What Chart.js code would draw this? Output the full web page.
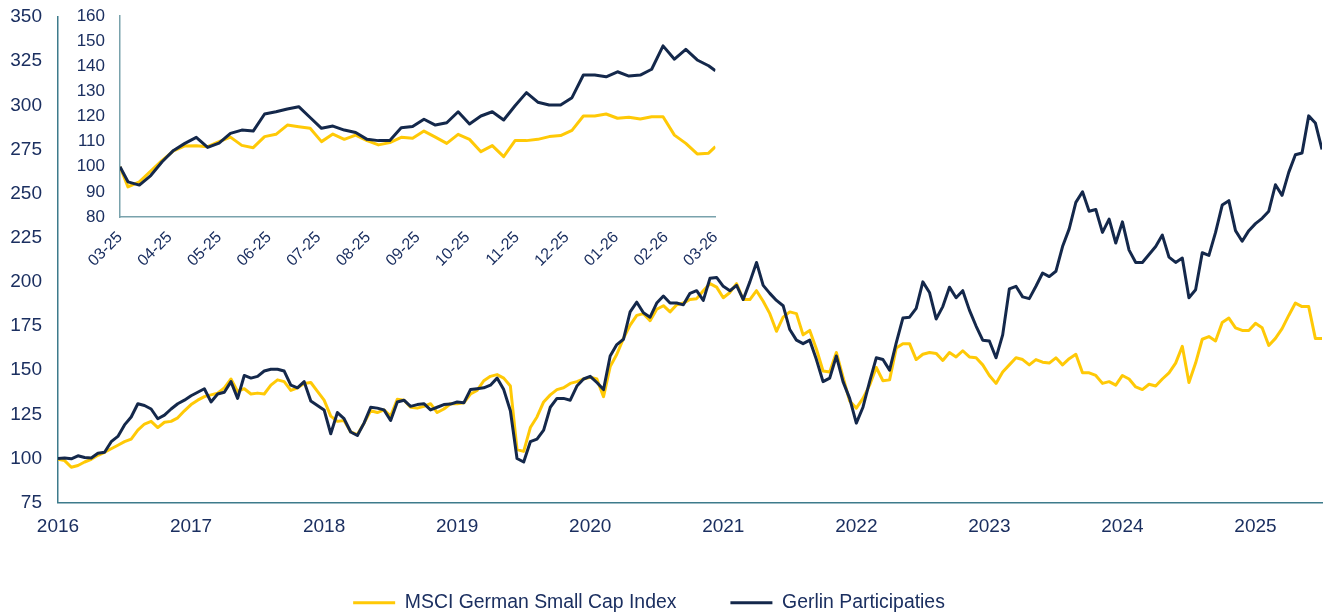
<!DOCTYPE html>
<html>
<head>
<meta charset="utf-8">
<title>Gerlin Participaties vs MSCI German Small Cap</title>
<script src="https://cdn.jsdelivr.net/npm/chart.js@4.4.1/dist/chart.umd.min.js"></script>
<style>
  html, body { margin: 0; padding: 0; background: #ffffff; }
  #wrap { position: relative; width: 1329px; height: 614px; }
  #mainChart, #insetChart { position: absolute; left: 0; top: 0; }
</style>
</head>
<body>
<div id="wrap">
  <canvas id="mainChart" width="1329" height="614"></canvas>
  <canvas id="insetChart" width="740" height="280"></canvas>
</div>
<script>
// ===== data =====

// main chart: one point every 1/20 year from Jan 2016
const mainStart = 2016;
const mainStep = 0.05;
const mainYears = [2016, 2017, 2018, 2019, 2020, 2021, 2022, 2023, 2024, 2025];

const msciMain = [
  99.5, 98.8, 95, 96, 98, 99.5, 101.8, 103.5, 105.5, 107.5,
  109.5, 111, 116, 119.5, 121, 117.5, 120.5, 121, 123, 127,
  130.5, 133, 135, 136, 137, 140, 145, 138, 139.5, 136.5,
  137, 136.5, 141.5, 144.5, 143.5, 138.5, 140, 142.5, 143, 138,
  133, 124, 121, 121.5, 115, 113.5, 120, 127, 126, 127.5,
  124, 133.5, 133, 129, 128.5, 129.5, 131, 126, 128, 131,
  131, 131.5, 136.5, 138.5, 144, 146.5, 147.5, 145.5, 141, 105,
  104, 117.5, 123.5, 132, 136, 139, 140, 142.5, 143.5, 145,
  146, 145, 135, 152, 159, 168, 175.5, 181, 182, 178,
  184.5, 186.5, 183, 187, 188, 190, 190.5, 195, 199, 197,
  191, 194, 199, 190, 190, 195, 189, 182, 172, 180,
  183, 182, 170, 172.5, 162, 149.5, 149, 160, 146, 132.5,
  128.5, 134, 141.5, 151.5, 144, 144.5, 162.5, 165, 165, 156,
  159, 160, 159.5, 155.5, 160, 157.5, 161, 157.5, 157, 153,
  147, 142.5, 149, 153, 157, 156, 153, 156, 154.5, 154,
  157, 153, 156.5, 159, 148.5, 148.5, 147, 142.5, 143.5, 141.5,
  147, 145, 140.5, 139, 142, 141, 145, 148.5, 154, 163.5,
  143, 154, 167.5, 169, 166.5, 177, 179.5, 174, 172.5, 172.5,
  176.5, 174, 164, 168, 173.5, 181, 188, 186, 186, 168,
  168
];

const gerlinMain = [
  100, 100.2, 99.8, 101.5, 100.5, 100.3, 103, 103.5, 109.5, 112.5,
  119, 123.5, 131, 130, 128, 122.5, 124.5, 128, 131, 133,
  135.5, 137.5, 139.5, 132, 136.5, 137.5, 143.5, 134, 147, 145.5,
  146.5, 149.5, 150.5, 150.5, 149.5, 141.5, 140, 143.5, 132.5, 130,
  127.5, 114, 126, 122.5, 115, 113, 120, 129, 128.5, 127.5,
  121.5, 132, 133, 129.5, 130.5, 131, 127.5, 129, 130.5, 130.8,
  132, 131.5, 139, 139.5, 140, 141.5, 145.5, 139, 127, 100,
  98, 109.5, 111, 116, 129, 134, 134, 133, 141, 145,
  146.5, 143, 139, 158, 164.5, 167.5, 183, 188.5, 182.5, 180,
  188, 192, 188, 188, 187, 193.5, 195, 189.5, 202, 202.5,
  197.5, 195, 198, 190, 200, 211, 198, 193.5, 189.5, 186.5,
  173, 167, 165, 167, 156, 143.5, 145.5, 158, 143.5, 134,
  120, 129, 143.5, 157, 156, 150, 165.5, 179.5, 180, 185,
  200, 194, 179, 186, 197, 191, 195, 184, 175, 167,
  166.5, 157, 170, 196, 197.5, 191.5, 190.5, 197.5, 205, 203,
  206, 220, 230, 245, 251, 240, 241, 228, 235.5, 222,
  234, 218, 211, 211, 215.5, 220, 226.5, 214, 211, 213.5,
  191, 195.5, 216.5, 215, 228, 243.5, 246, 229, 223, 229,
  233, 236, 240, 255, 249, 262, 272, 273, 294, 290,
  275
];

// inset: last twelve months, weekly closes (first point is the start date)
const insetMonths = ['03-25', '04-25', '05-25', '06-25', '07-25', '08-25', '09-25',
                     '10-25', '11-25', '12-25', '01-26', '02-26', '03-26'];
const insetSpanWeeks = 52.3;
const insetWeeks = [0].concat(Array.from({ length: 52 }, (_, k) => k + 0.7), [insetSpanWeeks]);

const msciInset = [
  100, 92, 94, 98.3, 102.5, 106.3, 108.3, 108.4, 108, 110,
  111.8, 108.5, 107.6, 112, 112.9, 116.6, 115.9, 115.3, 110, 113,
  110.9, 112.6, 110.4, 108.7, 109.6, 111.7, 111.3, 114.2, 111.8, 109.3,
  112.9, 110.9, 106, 108.4, 104, 110.4, 110.4, 110.9, 112, 112.4,
  114.5, 120.2, 120.2, 121, 119.3, 119.7, 119, 119.9, 119.9, 112.6,
  109.3, 105.1, 105.4, 108
];

const gerlinInset = [
  100, 94, 92.7, 96.5, 102, 106.5, 109.3, 111.7, 107.7, 109.4,
  113.3, 114.6, 114.2, 121, 121.9, 123, 123.9, 119.6, 115.3, 116.2,
  114.6, 113.6, 110.9, 110.4, 110.4, 115.5, 116, 118.9, 116.6, 117.5,
  121.9, 117, 120.2, 121.9, 118.6, 124.3, 129.5, 125.7, 124.6, 124.6,
  127.5, 136.5, 136.5, 135.8, 137.8, 136.1, 136.5, 138.8, 148.1, 142.8,
  146.7, 142.5, 140.2, 138.2
];

// ===== styling =====
const YELLOW = '#ffc906';
const NAVY = '#14284b';
const TEXT = '#1b2f60';
const AXIS_MAIN = '#3d7b8b';
const AXIS_INSET = '#79a2ac';

Chart.defaults.font.family = "'Liberation Sans', Arial, sans-serif";
Chart.defaults.color = TEXT;

function lineSet(label, points, color, order) {
  return {
    label,
    data: points,
    borderColor: color,
    backgroundColor: color,
    borderWidth: 3,
    pointRadius: 0,
    tension: 0,
    borderJoinStyle: 'round',
    order
  };
}

// legend sits a little further left / higher than Chart.js centres it
const legendNudge = {
  id: 'legendNudge',
  afterLayout(chart) {
    const lg = chart.legend;
    if (!lg) return;
    lg.left -= 12; lg.right -= 12;
    lg.top -= 3.5; lg.bottom -= 3.5;
  }
};

const noGrid = { display: false, drawTicks: false };

// y axis: fixed width, and don't let tick padding push the plot area down
const fixYAxis = width => s => {
  s.width = width;
  s.paddingTop = 0;
  s.paddingBottom = 0;
};

// ===== main chart =====
new Chart(document.getElementById('mainChart'), {
  type: 'line',
  data: {
    datasets: [
      lineSet('MSCI German Small Cap Index', msciMain.map((v, i) => ({ x: mainStart + i * mainStep, y: v })), YELLOW, 1),
      lineSet('Gerlin Participaties', gerlinMain.map((v, i) => ({ x: mainStart + i * mainStep, y: v })), NAVY, 0)
    ]
  },
  options: {
    responsive: false,
    animation: false,
    layout: { padding: { top: 17, right: 7, left: 0, bottom: -12 } },
    plugins: {
      legend: {
        position: 'bottom',
        labels: {
          boxWidth: 42,
          boxHeight: 3,
          padding: 54,
          color: TEXT,
          font: { size: 19.4 },
          sort: (a, b) => a.datasetIndex - b.datasetIndex,
          generateLabels: chart => Chart.defaults.plugins.legend.labels.generateLabels(chart)
            .map(item => Object.assign(item, { lineWidth: 0 }))
        }
      },
      tooltip: { enabled: false }
    },
    scales: {
      x: {
        type: 'linear',
        min: mainYears[0],
        max: 2025.5,
        grid: noGrid,
        border: { color: AXIS_MAIN, width: 1.5 },
        ticks: {
          stepSize: 1,
          includeBounds: false,
          autoSkip: false,
          maxRotation: 0,
          padding: 13,
          color: TEXT,
          font: { size: 19 },
          callback: v => mainYears.includes(v) ? String(v) : ''
        },
        afterFit: s => { s.height = 40; }
      },
      y: {
        min: 75,
        max: 350,
        grid: noGrid,
        border: { color: AXIS_MAIN, width: 1.5 },
        ticks: { stepSize: 25, padding: 16, color: TEXT, font: { size: 19 } },
        afterFit: fixYAxis(58)
      }
    }
  },
  plugins: [legendNudge]
});

// ===== inset chart (last 12 months) =====
const toMonth = w => w * 12 / insetSpanWeeks;

new Chart(document.getElementById('insetChart'), {
  type: 'line',
  data: {
    datasets: [
      lineSet('MSCI German Small Cap Index', msciInset.map((v, i) => ({ x: toMonth(insetWeeks[i]), y: v })), YELLOW, 1),
      lineSet('Gerlin Participaties', gerlinInset.map((v, i) => ({ x: toMonth(insetWeeks[i]), y: v })), NAVY, 0)
    ]
  },
  options: {
    responsive: false,
    animation: false,
    layout: { padding: { top: 16, right: 22, left: 0, bottom: 0 } },
    plugins: { legend: { display: false }, tooltip: { enabled: false } },
    scales: {
      x: {
        type: 'linear',
        min: 0,
        max: 12,
        grid: noGrid,
        border: { color: AXIS_INSET, width: 1.5 },
        ticks: {
          stepSize: 1,
          autoSkip: false,
          minRotation: 45,
          maxRotation: 45,
          padding: 11,
          color: TEXT,
          font: { size: 16 },
          callback: v => insetMonths[Math.round(v)]
        },
        afterFit: s => { s.height = 63; }
      },
      y: {
        min: 80,
        max: 160,
        grid: noGrid,
        border: { color: AXIS_INSET, width: 1.5 },
        ticks: { stepSize: 10, padding: 15, color: TEXT, font: { size: 17 } },
        afterFit: fixYAxis(120)
      }
    }
  }
});
</script>
</body>
</html>
